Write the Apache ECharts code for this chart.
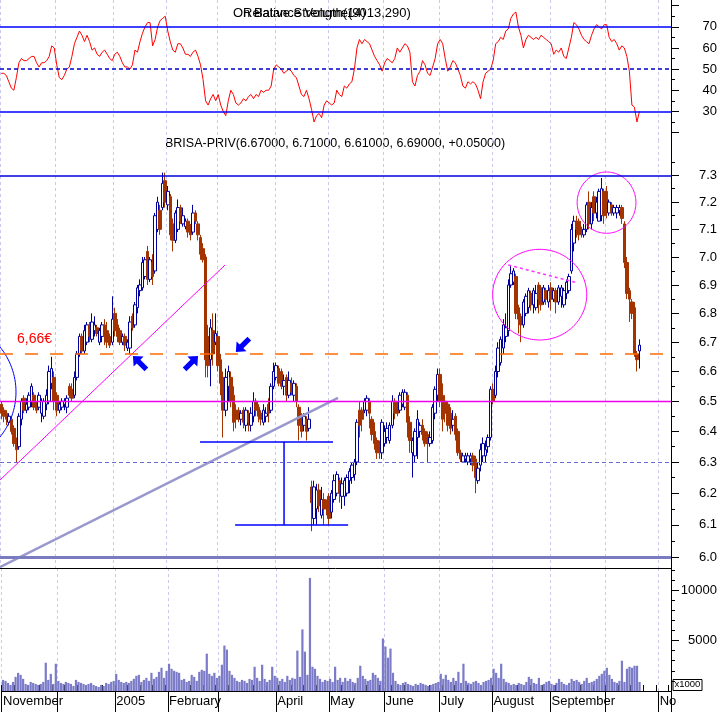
<!DOCTYPE html>
<html><head><meta charset="utf-8">
<script src="https://cdn.jsdelivr.net/npm/echarts@6/dist/echarts.min.js"></script>
<style>html,body{margin:0;padding:0;background:#fff}#c{width:723px;height:712px}</style>
</head><body><div id="c"></div>
<script>
// ---------- DATA (OHLC per month: [open, close, low, high]) ----------
const nov04 = [[6.49,6.46,6.44,6.50],[6.47,6.45,6.43,6.48],[6.46,6.44,6.42,6.47],[6.43,6.45,6.42,6.46],[6.44,6.40,6.39,6.45],[6.41,6.36,6.35,6.42],[6.37,6.34,6.30,6.38],[6.35,6.45,6.34,6.46],[6.44,6.50,6.42,6.51],[6.51,6.47,6.46,6.52],[6.47,6.49,6.46,6.51],[6.48,6.52,6.47,6.53],[6.50,6.55,6.48,6.56],[6.52,6.48,6.47,6.53],[6.49,6.47,6.46,6.50],[6.48,6.52,6.47,6.53],[6.46,6.50,6.43,6.51],[6.45,6.50,6.44,6.51],[6.49,6.52,6.47,6.54],[6.50,6.60,6.49,6.62],[6.56,6.61,6.54,6.65],[6.58,6.50,6.47,6.60]];
const dec04 = [[6.52,6.47,6.45,6.53],[6.47,6.49,6.46,6.50],[6.48,6.50,6.47,6.51],[6.49,6.50,6.47,6.51],[6.48,6.51,6.46,6.52],[6.55,6.52,6.51,6.56],[6.54,6.51,6.50,6.56],[6.52,6.58,6.51,6.60],[6.58,6.66,6.57,6.67],[6.66,6.72,6.65,6.73],[6.72,6.67,6.66,6.73],[6.67,6.74,6.66,6.76],[6.70,6.76,6.69,6.77],[6.76,6.72,6.70,6.77],[6.71,6.77,6.70,6.80],[6.74,6.76,6.72,6.79],[6.75,6.73,6.72,6.76],[6.70,6.74,6.69,6.75],[6.72,6.76,6.70,6.77],[6.76,6.72,6.69,6.78],[6.74,6.70,6.68,6.77],[6.72,6.69,6.68,6.73],[6.70,6.78,6.69,6.86]];
const jan05 = [[6.80,6.74,6.72,6.82],[6.76,6.72,6.70,6.78],[6.74,6.70,6.69,6.75],[6.70,6.72,6.69,6.73],[6.72,6.69,6.67,6.73],[6.68,6.70,6.67,6.71],[6.68,6.77,6.66,6.79],[6.79,6.75,6.74,6.80],[6.76,6.83,6.75,6.84],[6.82,6.89,6.80,6.90],[6.88,6.90,6.86,6.92],[6.89,6.98,6.88,7.00],[6.93,6.99,6.92,7.00],[7.02,6.92,6.90,7.04],[6.92,6.99,6.91,7.00],[6.98,6.93,6.90,7.01],[6.95,7.15,6.94,7.16],[7.10,7.20,7.09,7.22],[7.17,7.10,7.08,7.19],[7.18,7.27,7.17,7.31],[7.28,7.20,7.18,7.31]];
const feb05 = [[7.19,7.24,7.17,7.26],[7.22,7.08,7.06,7.23],[7.12,7.06,7.02,7.14],[7.06,7.16,7.05,7.17],[7.10,7.18,7.09,7.21],[7.18,7.13,7.12,7.19],[7.12,7.15,7.11,7.18],[7.11,7.13,7.10,7.14],[7.13,7.09,7.07,7.14],[7.11,7.08,7.06,7.12],[7.09,7.16,7.08,7.19],[7.16,7.13,7.12,7.17],[7.12,7.08,7.06,7.13],[7.07,7.01,6.99,7.08],[7.03,6.99,6.98,7.05],[7.00,6.64,6.58,7.01],[6.72,6.62,6.58,6.76],[6.64,6.75,6.55,6.78],[6.74,6.66,6.62,6.80],[6.70,6.73,6.69,6.80]];
const mar05 = [[6.72,6.62,6.60,6.74],[6.64,6.56,6.52,6.66],[6.58,6.47,6.38,6.60],[6.47,6.58,6.45,6.61],[6.55,6.60,6.50,6.62],[6.58,6.50,6.48,6.60],[6.52,6.43,6.40,6.55],[6.47,6.44,6.41,6.49],[6.47,6.44,6.43,6.48],[6.44,6.46,6.42,6.47],[6.47,6.43,6.41,6.48],[6.42,6.47,6.40,6.48],[6.46,6.43,6.40,6.47],[6.42,6.46,6.40,6.48],[6.45,6.50,6.43,6.53],[6.50,6.47,6.45,6.51],[6.48,6.45,6.43,6.49],[6.46,6.44,6.42,6.47],[6.43,6.47,6.42,6.49],[6.45,6.46,6.43,6.48],[6.49,6.46,6.43,6.51],[6.47,6.55,6.46,6.56],[6.55,6.60,6.54,6.63]];
const apr05 = [[6.58,6.62,6.57,6.63],[6.61,6.56,6.55,6.62],[6.60,6.55,6.54,6.61],[6.55,6.57,6.52,6.59],[6.58,6.52,6.50,6.59],[6.52,6.57,6.51,6.60],[6.56,6.53,6.52,6.58],[6.52,6.56,6.50,6.57],[6.55,6.50,6.48,6.56],[6.48,6.42,6.37,6.49],[6.43,6.40,6.38,6.46],[6.42,6.45,6.40,6.46],[6.44,6.40,6.37,6.45],[6.41,6.44,6.40,6.48],[6.22,6.17,6.08,6.24],[6.12,6.22,6.10,6.24],[6.15,6.21,6.10,6.23],[6.21,6.16,6.14,6.23],[6.13,6.18,6.12,6.22],[6.18,6.15,6.10,6.20],[6.17,6.15,6.13,6.18]];
const may05 = [[6.19,6.12,6.10,6.20],[6.14,6.20,6.12,6.21],[6.18,6.24,6.17,6.26],[6.20,6.26,6.19,6.27],[6.24,6.20,6.17,6.25],[6.19,6.23,6.15,6.25],[6.19,6.24,6.16,6.25],[6.20,6.25,6.19,6.26],[6.24,6.27,6.20,6.28],[6.25,6.29,6.23,6.30],[6.26,6.30,6.24,6.31],[6.30,6.43,6.29,6.44],[6.47,6.42,6.38,6.50],[6.47,6.44,6.40,6.48],[6.47,6.50,6.46,6.51],[6.47,6.51,6.45,6.52],[6.50,6.46,6.41,6.51],[6.44,6.39,6.37,6.45],[6.40,6.36,6.34,6.43],[6.37,6.33,6.31,6.38],[6.35,6.33,6.31,6.37],[6.33,6.43,6.31,6.44]];
const jun05 = [[6.36,6.40,6.35,6.42],[6.38,6.41,6.36,6.43],[6.37,6.42,6.36,6.43],[6.42,6.50,6.41,6.52],[6.50,6.46,6.44,6.51],[6.49,6.46,6.45,6.50],[6.47,6.52,6.46,6.53],[6.49,6.53,6.48,6.54],[6.48,6.53,6.47,6.54],[6.52,6.43,6.38,6.53],[6.43,6.37,6.33,6.45],[6.33,6.37,6.25,6.38],[6.32,6.40,6.30,6.41],[6.38,6.44,6.31,6.47],[6.40,6.42,6.38,6.43],[6.42,6.39,6.37,6.44],[6.40,6.36,6.35,6.41],[6.39,6.36,6.30,6.40],[6.36,6.38,6.35,6.40],[6.37,6.48,6.36,6.49],[6.46,6.54,6.44,6.55],[6.52,6.59,6.50,6.61]];
const jul05 = [[6.59,6.50,6.48,6.61],[6.52,6.44,6.40,6.56],[6.50,6.46,6.43,6.52],[6.49,6.42,6.40,6.50],[6.46,6.41,6.39,6.48],[6.42,6.44,6.40,6.47],[6.45,6.39,6.37,6.46],[6.40,6.33,6.32,6.41],[6.33,6.31,6.30,6.34],[6.30,6.32,6.30,6.33],[6.31,6.32,6.30,6.33],[6.30,6.32,6.29,6.33],[6.31,6.32,6.29,6.33],[6.32,6.29,6.27,6.33],[6.31,6.25,6.20,6.32],[6.24,6.28,6.23,6.30],[6.29,6.34,6.27,6.36],[6.32,6.36,6.30,6.38],[6.32,6.34,6.30,6.37],[6.35,6.38,6.33,6.39],[6.38,6.54,6.37,6.55]];
const aug05 = [[6.54,6.50,6.49,6.56],[6.52,6.60,6.51,6.62],[6.60,6.68,6.58,6.70],[6.63,6.71,6.62,6.72],[6.68,6.76,6.66,6.78],[6.72,6.75,6.70,6.80],[6.74,6.90,6.72,6.92],[6.90,6.94,6.89,6.97],[6.91,6.95,6.90,6.96],[6.93,6.80,6.78,6.94],[6.82,6.78,6.73,6.83],[6.79,6.76,6.70,6.80],[6.76,6.84,6.75,6.85],[6.80,6.86,6.79,6.87],[6.82,6.88,6.80,6.89],[6.87,6.83,6.81,6.88],[6.83,6.88,6.80,6.89],[6.82,6.87,6.81,6.90],[6.90,6.85,6.80,6.91],[6.89,6.83,6.81,6.90],[6.84,6.89,6.83,6.90],[6.88,6.85,6.83,6.89],[6.84,6.88,6.82,6.90]];
const sep05 = [[6.89,6.85,6.81,6.91],[6.85,6.88,6.84,6.89],[6.88,6.84,6.80,6.89],[6.84,6.89,6.83,6.90],[6.86,6.89,6.82,6.90],[6.83,6.88,6.82,6.89],[6.87,6.91,6.85,6.92],[6.88,6.93,6.87,6.94],[6.95,7.10,6.94,7.12],[7.05,7.13,7.02,7.15],[7.13,7.10,7.07,7.15],[7.13,7.08,7.06,7.14],[7.10,7.09,7.07,7.11],[7.08,7.10,7.07,7.12],[7.10,7.19,7.09,7.20],[7.20,7.12,7.10,7.24],[7.12,7.18,7.10,7.20],[7.22,7.16,7.13,7.24],[7.16,7.20,7.14,7.22],[7.13,7.24,7.13,7.25],[7.15,7.25,7.13,7.29],[7.24,7.15,7.12,7.25]];
const oct05 = [[7.24,7.17,7.14,7.26],[7.16,7.20,7.15,7.21],[7.19,7.16,7.15,7.20],[7.16,7.18,7.15,7.19],[7.16,7.18,7.14,7.19],[7.17,7.18,7.15,7.19],[7.18,7.14,7.12,7.19],[7.12,6.98,6.96,7.13],[6.98,6.87,6.85,7.00],[6.88,6.85,6.77,6.89],[6.84,6.80,6.78,6.85],[6.82,6.66,6.65,6.84],[6.66,6.64,6.60,6.67],[6.67,6.69,6.61,6.71]];

// Volume (x1000)
const vNov04 = [1100,1000,800,600,900,1400,1800,1600,1200,700,600,900,800,700,600,700,900,2800,1100,1700,700,2700];
const vDec04 = [1000,800,700,900,800,700,500,1100,900,800,700,600,700,800,600,500,400,600,500,800,700,900,1000];
const vJan05 = [1700,1100,900,800,900,800,1000,1200,1500,1600,900,1100,1300,1000,1800,1200,1400,1900,2300,1300,2000];
const vFeb05 = [2700,2200,2000,1900,1800,1100,1200,900,1000,1600,1400,1000,1900,2100,2000,3700,1700,1500,1800,1300];
const vMar05 = [1500,2600,4500,4100,2000,1600,1300,1000,900,1100,1000,800,1200,1100,2400,1300,1000,2600,1200,900,1100,2400,1500];
const vApr05 = [1300,1000,1200,900,1500,1100,1300,1200,4000,1400,6100,3900,1600,11200,2400,2200,1500,1200,900,1100,1000];
const vMay05 = [1200,900,2400,1100,1300,900,1300,1000,1200,900,800,1300,2500,1500,1200,1000,1100,1800,1600,1300,1000,5200];
const vJun05 = [4400,3300,4200,1800,1000,700,600,800,900,700,600,500,700,600,800,700,600,500,600,700,800,900];
const vJul05 = [1700,1200,1600,1100,900,1300,1000,1900,800,2700,1000,800,700,900,1000,800,600,900,1000,1100,1300];
const vAug05 = [2200,1800,1300,2700,1200,900,800,600,700,600,800,700,600,900,1400,1200,800,700,1300,600,700,900,1000];
const vSep05 = [700,600,800,1200,900,700,600,800,1200,1000,1100,900,700,1000,1300,800,900,1000,1200,1500,1700,2000];
const vOct05 = [2300,1600,1200,900,800,1000,3000,900,2200,2400,2300,2500,2500,900];

// Relative strength
const rNov04 = [48,48,47,44,41,40,46,53,55,54,54,55,56,56,53,51,53,53,54,56,61,60];
const rDec04 = [52,46,45,47,50,51,56,62,65,68,66,63,66,63,59,60,57,56,58,59,57,55,54];
const rJan05 = [57,58,56,53,51,51,50,52,59,58,63,67,70,72,72,61,64,70,73,74,75];
const rFeb05 = [68,63,59,58,62,62,60,57,57,56,58,59,56,52,45,35,33,36,38,35];
const rMar05 = [38,33,30,28,35,40,38,34,33,34,36,35,37,38,36,38,37,40,39,40,40,42,50];
const rApr05 = [52,51,50,48,49,50,49,47,46,42,38,37,40,36,31,25,28,29,27,33,35];
const rMay05 = [34,33,34,40,38,37,42,41,43,44,50,60,64,62,64,63,62,59,56,54,52,49];
const rJun05 = [53,55,54,53,55,60,58,60,62,61,58,44,42,47,49,54,52,48,47,51,55,62];
const rJul05 = [64,62,55,49,51,54,53,50,47,42,41,44,43,44,43,40,36,44,48,49,50];
const rAug05 = [54,62,63,65,64,68,69,74,76,77,70,66,60,64,66,65,64,65,64,66,65,64,63];
const rSep05 = [62,57,59,58,60,56,55,60,65,72,71,69,66,64,63,62,66,69,71,70,69,71];
const rOct05 = [71,65,63,64,62,59,61,60,56,49,33,32,25,30];

// Tick labels
const monthLabels = {'2004-11':'November','2005-01':'2005','2005-02':'February','2005-04':'April','2005-05':'May','2005-06':'June','2005-07':'July','2005-08':'August','2005-09':'September','2005-11':'No'};
const priceLabels = [6.0,6.1,6.2,6.3,6.4,6.5,6.6,6.7,6.8,6.9,7.0,7.1,7.2,7.3];
const priceMinor = [6.05,6.15,6.25,6.35,6.45,6.55,6.65,6.75,6.85,6.95,7.05,7.15,7.25,7.35];
const rsiTicks = [20,30,40,50,60,70,80];
const rsiLabels = [30,40,50,60,70];
const rsiMinor = [25,35,45,55,65,75];
const volLabels = [5000,10000];
const volMinor = [1000,2000,3000,4000,6000,7000,8000,9000,11000,12000];

// Horizontal levels drawn on price panel
const resistance = 7.3, pivot = 6.5, support = 6.3, floorLevel = 6.0, target = 6.66;
const rsiHigh = 70, rsiMid = 50, rsiLow = 30;

// Drawn annotations in data space: [tradingDayIndex, price]
const supportLine = [[-0.5,6.242],[88.7,6.971]];
const longTrend = [[-0.5,5.969],[133.5,6.511]];
const flagLine = [[201.0,6.971],[228.1,6.908]];
const gapBracket = [[[78.8,6.365],[131.5,6.365]],[[112.1,6.365],[112.1,6.0995]],[[92.7,6.0995],[137.5,6.0995]]];
const pinkCircles = [[[194.8,7.0276],[232.1,6.7077]],[[228.3,7.3124],[251.6,7.0857]]];
const blueCircle = [[-50.7,6.7745],[5.84,6.296]];
const arrowMarks = [[55.0,6.629,-45],[75.2,6.629,45],[95.8,6.6905,-135]];

// ---------- BUILD ----------
const ohlc = [].concat(nov04,dec04,jan05,feb05,mar05,apr05,may05,jun05,jul05,aug05,sep05,oct05);
const volume = [].concat(vNov04,vDec04,vJan05,vFeb05,vMar05,vApr05,vMay05,vJun05,vJul05,vAug05,vSep05,vOct05);
const rsi = [].concat(rNov04,rDec04,rJan05,rFeb05,rMar05,rApr05,rMay05,rJun05,rJul05,rAug05,rSep05,rOct05);

const dates = [];
{ const d = new Date(Date.UTC(2004,10,1));
  while (dates.length < 266) { const w = d.getUTCDay(); if (w > 0 && w < 6) dates.push(d.toISOString().slice(0,10)); d.setUTCDate(d.getUTCDate()+1); } }
const isMonthStart = i => i === 0 || dates[i].slice(0,7) !== dates[i-1].slice(0,7);
const isMonday = i => new Date(dates[i] + 'T00:00:00Z').getUTCDay() === 1;

const last = ohlc[ohlc.length-1], prevClose = ohlc[ohlc.length-2][1];
const titleText = 'BRISA-PRIV(' + [last[0], last[3], last[2], last[1]].map(v => v.toFixed(5)).join(', ') + ', +' + (last[1]-prevClose).toFixed(5) + ')';

const FONT = '"Liberation Sans", Arial, sans-serif';
const vSplit = {show:true, interval:(i)=>isMonthStart(i), lineStyle:{color:'#c9c9ef', type:[3,3], width:1}};
const labelStyle = {fontSize:13, color:'#000', fontFamily:FONT};

const annos = [];
annos.push({kind:'line', pts:longTrend, style:{stroke:'#9898cc', lineWidth:2.5}});
annos.push({kind:'line', pts:supportLine, style:{stroke:'#ff00ff', lineWidth:1}});
annos.push({kind:'line', pts:flagLine, style:{stroke:'#ff33ff', lineWidth:1.5, lineDash:[3,3]}});
gapBracket.forEach(p => annos.push({kind:'line', pts:p, style:{stroke:'#0000ff', lineWidth:1.5}}));
pinkCircles.forEach(p => annos.push({kind:'ellipse', pts:p, style:{stroke:'#ff00ff', lineWidth:1, fill:'none'}}));
annos.push({kind:'ellipse', pts:blueCircle, style:{stroke:'#0000ff', lineWidth:1, fill:'none'}});
arrowMarks.forEach(a => annos.push({kind:'arrow', pts:[[a[0],a[1]]], angle:a[2]}));
const arrowShape = [[0,-10],[7,-2],[2.6,-2],[2.6,9],[-2.6,9],[-2.6,-2],[-7,-2]];

function renderAnno(params, api) {
  const a = annos[params.dataIndex];
  if (a.kind === 'line') {
    const p1 = api.coord(a.pts[0]), p2 = api.coord(a.pts[1]);
    return {type:'line', shape:{x1:p1[0],y1:p1[1],x2:p2[0],y2:p2[1]}, style:a.style};
  }
  if (a.kind === 'ellipse') {
    const p1 = api.coord(a.pts[0]), p2 = api.coord(a.pts[1]);
    const cx=(p1[0]+p2[0])/2, cy=(p1[1]+p2[1])/2, rx=Math.abs(p2[0]-p1[0])/2, ry=Math.abs(p2[1]-p1[1])/2;
    const pts=[]; for (let k=0;k<=144;k++){const t=k/144*2*Math.PI; pts.push([cx+rx*Math.cos(t), cy+ry*Math.sin(t)]);}
    return {type:'polyline', shape:{points:pts}, style:a.style};
  }
  const c = api.coord(a.pts[0]);
  const th = a.angle*Math.PI/180, cs=Math.cos(th), sn=Math.sin(th);
  const pts = arrowShape.map(([x,y]) => [c[0]+x*cs-y*sn, c[1]+x*sn+y*cs]);
  return {type:'polygon', shape:{points:pts}, style:{fill:'#0000ff'}};
}

const logMin = 5.9662, logMax = 7.4336;
const chart = echarts.init(document.getElementById('c'), null, {renderer:'canvas', width:723, height:712});
chart.setOption({
  animation:false,
  backgroundColor:'#fff',
  textStyle:{fontFamily:FONT},
  grid:[
    {left:0, top:0, width:671, height:140},
    {left:0, top:140, width:671, height:428},
    {left:0, top:568, width:671, height:123}
  ],
  xAxis:[
    {type:'category', gridIndex:0, data:dates, axisLine:{show:false}, axisTick:{show:false}, axisLabel:{show:false}, splitLine:vSplit},
    {type:'category', gridIndex:1, data:dates, axisLine:{show:true, onZero:false, lineStyle:{color:'#000', width:1}}, axisTick:{show:false}, axisLabel:{show:false}, splitLine:vSplit},
    {type:'category', gridIndex:2, data:dates, axisLine:{show:true, onZero:false, lineStyle:{color:'#000', width:1}},
      axisTick:{show:true, interval:(i)=>isMonthStart(i), length:21, lineStyle:{color:'#000'}},
      axisLabel:Object.assign({show:true, interval:(i,v)=>isMonthStart(i) && monthLabels[v.slice(0,7)] !== undefined, formatter:(v)=>monthLabels[v.slice(0,7)] || '', align:'left', margin:4}, labelStyle),
      splitLine:vSplit},
    {type:'category', gridIndex:2, data:dates, axisLine:{show:false}, axisTick:{show:true, interval:(i)=>isMonday(i), length:6, lineStyle:{color:'#000'}}, axisLabel:{show:false}, splitLine:{show:false}},
    {type:'value', gridIndex:1, min:-0.5, max:265.5, show:false, axisLine:{onZero:false}}
  ],
  yAxis:[
    {type:'value', gridIndex:0, position:'right', min:16.48, max:82.67, axisLine:{show:true, onZero:false, lineStyle:{color:'#000'}},
      axisTick:{show:true, length:8, customValues:rsiTicks, lineStyle:{color:'#000'}},
      axisLabel:Object.assign({customValues:rsiLabels, align:'right', margin:46}, labelStyle), splitLine:{show:false}},
    {type:'value', gridIndex:0, position:'right', min:16.48, max:82.67, axisLine:{show:false, onZero:false},
      axisTick:{show:true, length:4, customValues:rsiMinor, lineStyle:{color:'#000'}}, axisLabel:{show:false}, splitLine:{show:false}},
    {type:'log', logBase:10, gridIndex:1, position:'right', min:logMin, max:logMax, axisLine:{show:true, onZero:false, lineStyle:{color:'#000'}},
      axisTick:{show:true, length:8, customValues:priceLabels, lineStyle:{color:'#000'}},
      axisLabel:Object.assign({customValues:priceLabels, align:'right', margin:46, formatter:(v)=>Number(v).toFixed(1)}, labelStyle), splitLine:{show:false}},
    {type:'log', logBase:10, gridIndex:1, position:'right', min:logMin, max:logMax, axisLine:{show:false, onZero:false},
      axisTick:{show:true, length:4, customValues:priceMinor, lineStyle:{color:'#000'}}, axisLabel:{show:false}, splitLine:{show:false}},
    {type:'value', gridIndex:2, position:'right', min:0, max:12180, axisLine:{show:true, onZero:false, lineStyle:{color:'#000'}},
      axisTick:{show:true, length:8, customValues:volLabels, lineStyle:{color:'#000'}},
      axisLabel:Object.assign({customValues:volLabels, align:'right', margin:46, formatter:(v)=>String(v)}, labelStyle), splitLine:{show:false}},
    {type:'value', gridIndex:2, position:'right', min:0, max:12180, axisLine:{show:false, onZero:false},
      axisTick:{show:true, length:4, customValues:volMinor, lineStyle:{color:'#000'}}, axisLabel:{show:false}, splitLine:{show:false}}
  ],
  series:[
    {type:'line', xAxisIndex:0, yAxisIndex:0, data:rsi, symbol:'none', lineStyle:{color:'#ff0000', width:1}, z:3,
      markLine:{silent:true, symbol:['none','none'], label:{show:false}, data:[
        {yAxis:rsiHigh, lineStyle:{color:'#0000ff', width:1.5, type:'solid'}},
        {yAxis:rsiLow, lineStyle:{color:'#0000ff', width:1.5, type:'solid'}},
        {yAxis:rsiMid, lineStyle:{color:'#0000cc', width:1.5, type:[4,3]}}
      ]}},
    {type:'candlestick', xAxisIndex:1, yAxisIndex:2, data:ohlc, barWidth:3, z:3,
      itemStyle:{color:'#ffffff', color0:'#a33400', borderColor:'#00009c', borderColor0:'#a33400', borderWidth:1},
      markLine:{silent:true, symbol:['none','none'], label:{show:false}, data:[
        {yAxis:resistance, lineStyle:{color:'#0000dd', width:1.5, type:'solid'}},
        {yAxis:pivot, lineStyle:{color:'#ee00ee', width:1.3, type:'solid'}},
        {yAxis:support, lineStyle:{color:'#6a6ad0', width:1, type:[4,3]}},
        {yAxis:floorLevel, lineStyle:{color:'#7b7bc0', width:3, type:'solid'}},
        {yAxis:target, lineStyle:{color:'#ff6a00', width:1.5, type:[13,12]},
          label:{show:true, formatter:'6,66€', position:'insideStartTop', distance:[17,8], color:'#ff0000', fontSize:14, fontFamily:FONT}}
      ]}},
    {type:'custom', xAxisIndex:4, yAxisIndex:2, clip:true, z:4, silent:true,
      data:annos.map(a => a.pts[a.pts.length-1]), renderItem:renderAnno},
    {type:'bar', xAxisIndex:2, yAxisIndex:4, data:volume, barCategoryGap:'12%', itemStyle:{color:'#7b7bc8'}}
  ],
  graphic:[
    {type:'text', left:233, top:7, style:{text:'On Balance Volume(9013,290)', font:'13px ' + FONT, fill:'#000'}},
    {type:'text', left:243, top:7, style:{text:'Relative Strength(14)', font:'13px ' + FONT, fill:'#000'}},
    {type:'text', left:165, top:137, style:{text:titleText, font:'12.5px ' + FONT, fill:'#000'}},
    {type:'rect', left:672.5, top:679, shape:{width:29, height:11}, style:{fill:'#fff', stroke:'#000', lineWidth:1}},
    {type:'text', left:674.5, top:679.5, style:{text:'x1000', font:'9.5px ' + FONT, fill:'#000'}}
  ]
});
</script></body></html>
